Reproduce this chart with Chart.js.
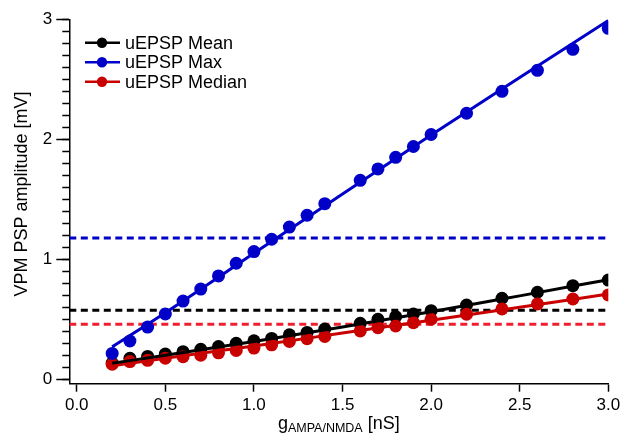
<!DOCTYPE html>
<html><head><meta charset="utf-8">
<script src="https://cdn.jsdelivr.net/npm/chart.js@4"></script>
<style>html,body{margin:0;padding:0;background:#fff}#wrap{width:620px;height:437px}</style>
</head><body><div id="wrap"><canvas id="c" width="620" height="437"></canvas></div>
<script>
// conductance values (nS)
const gValues = [0.2,0.3,0.4,0.5,0.6,0.7,0.8,0.9,1.0,1.1,1.2,1.3,1.4,1.6,1.7,1.8,1.9,2.0,2.2,2.4,2.6,2.8,3.0];
const meanValues = [0.135,0.175,0.19,0.21,0.23,0.25,0.272,0.30,0.32,0.34,0.37,0.39,0.419,0.467,0.50,0.522,0.544,0.572,0.619,0.675,0.725,0.78,0.827];
const maxValues = [0.215,0.319,0.435,0.544,0.652,0.752,0.861,0.967,1.064,1.167,1.268,1.367,1.463,1.658,1.753,1.85,1.94,2.04,2.217,2.40,2.575,2.75,2.925];
const medianValues = [0.125,0.147,0.158,0.175,0.188,0.20,0.22,0.24,0.26,0.287,0.315,0.338,0.357,0.403,0.43,0.444,0.472,0.50,0.542,0.586,0.628,0.669,0.703];
// fitted curves
const fitG = [0.2,0.5,1.0,1.5,2.0,2.5,3.0];
const meanFit = [0.133,0.20,0.315,0.436,0.562,0.695,0.83];
const maxFit = [0.27,0.555,1.05,1.545,2.035,2.515,2.99];
const medianFit = [0.113,0.175,0.278,0.385,0.492,0.60,0.71];
// reference levels (dashed)
const meanLevel = 0.575, maxLevel = 1.178, medianLevel = 0.458;
const seriesLabels = ['uEPSP Mean','uEPSP Max','uEPSP Median'];
const xMin = -0.042, xMax = 3.0, yMin = -0.037, yMax = 3.0;
const xTickStep = 0.5, yTickStep = 1, yMinorStep = 0.1;

const cBlack = '#000000', cBlue = '#0000c8', cRed = '#c80000', cRedDash = '#ee2030';
const pts = (xs, ys) => xs.map((x, i) => ({x, y: ys[i]}));
const hline = v => [{x: xMin, y: v}, {x: xMax, y: v}];

function markers(label, vals, color, order) {
  return {label, data: pts(gValues, vals), showLine: false, pointRadius: 6.5, pointHoverRadius: 6.5,
    pointBackgroundColor: color, pointBorderColor: color, pointBorderWidth: 0, order, legendColor: color};
}
function fitLine(vals, color, order) {
  return {label: '', data: pts(fitG, vals), showLine: true, pointRadius: 0, borderColor: color,
    borderWidth: 3, cubicInterpolationMode: 'monotone', order};
}
function dashLine(v, color, order) {
  return {label: '', data: hline(v), showLine: true, pointRadius: 0, borderColor: color,
    borderWidth: 3, borderDash: [7, 4.5], order};
}

const decor = {
  id: 'decor',
  afterDraw(chart) {
    const ctx = chart.ctx;
    ctx.save();
    ctx.fillStyle = '#000';
    // y title
    ctx.font = '18px "Liberation Sans", Arial, sans-serif';
    ctx.textAlign = 'center'; ctx.textBaseline = 'middle';
    ctx.translate(21.7, 194); ctx.rotate(-Math.PI / 2);
    ctx.fillText('VPM PSP amplitude [mV]', 0, 0);
    ctx.setTransform(1, 0, 0, 1, 0, 0);
    // x title with subscript
    const big = '18px "Liberation Sans", Arial, sans-serif';
    const small = '12.5px "Liberation Sans", Arial, sans-serif';
    ctx.textAlign = 'left'; ctx.textBaseline = 'alphabetic';
    ctx.font = big; const w1 = ctx.measureText('g').width;
    ctx.font = small; const w2 = ctx.measureText('AMPA/NMDA').width;
    ctx.font = big; const w3 = ctx.measureText(' [nS]').width;
    const xs = chart.scales.x;
    const cx = (xs.left + xs.right) / 2;
    let x0 = cx - (w1 + w2 + w3) / 2;
    const base = 429;
    ctx.font = big; ctx.fillText('g', x0, base); x0 += w1;
    ctx.font = small; ctx.fillText('AMPA/NMDA', x0, base + 3); x0 += w2;
    ctx.font = big; ctx.fillText(' [nS]', x0, base);
    // legend
    const rows = [42.7, 62.3, 81.7];
    chart.data.datasets.filter(d => d.legendColor).forEach((d, i) => {
      const y = rows[i];
      ctx.strokeStyle = d.legendColor; ctx.lineWidth = 2.5;
      ctx.beginPath(); ctx.moveTo(85, y); ctx.lineTo(120, y); ctx.stroke();
      ctx.fillStyle = d.legendColor;
      ctx.beginPath(); ctx.arc(102, y, 5.2, 0, Math.PI * 2); ctx.fill();
      ctx.fillStyle = '#000';
      ctx.font = '18px "Liberation Sans", Arial, sans-serif';
      ctx.textBaseline = 'middle';
      ctx.fillText(d.label, 125, y + 1);
    });
    ctx.restore();
  }
};

new Chart(document.getElementById('c'), {
  type: 'scatter',
  data: {
    datasets: [
      markers(seriesLabels[0], meanValues, cBlack, 8),
      markers(seriesLabels[1], maxValues, cBlue, 6),
      markers(seriesLabels[2], medianValues, cRed, 7),
      fitLine(meanFit, cBlack, 3),
      fitLine(maxFit, cBlue, 2),
      fitLine(medianFit, cRed, 4),
      dashLine(meanLevel, cBlack, 10),
      dashLine(maxLevel, cBlue, 10),
      dashLine(medianLevel, cRedDash, 10)
    ]
  },
  options: {
    responsive: false, maintainAspectRatio: false, animation: false, devicePixelRatio: 1,
    layout: {autoPadding: false, padding: {left: 0, top: 19.3, right: 11.7, bottom: 0}},
    plugins: {legend: {display: false}, tooltip: {enabled: false}},
    scales: {
      x: {
        type: 'linear', position: 'bottom', min: xMin, max: xMax,
        ticks: {stepSize: xTickStep, includeBounds: false, autoSkip: false, maxRotation: 0,
          callback: v => Number(v).toFixed(1), color: '#000', padding: 3,
          font: {family: '"Liberation Sans", Arial, sans-serif', size: 17}},
        grid: {drawOnChartArea: false, tickLength: 8, tickWidth: 1.5, tickColor: '#000'},
        border: {color: '#000', width: 1.5},
        afterFit(s) { s.height = 53.3; s.paddingLeft = 0; s.paddingRight = 0; }
      },
      y: {
        type: 'linear', position: 'left', weight: 1, min: yMin, max: yMax,
        ticks: {stepSize: yTickStep, includeBounds: false, autoSkip: false, color: '#000', padding: 4,
          callback: v => String(Math.round(v)),
          font: {family: '"Liberation Sans", Arial, sans-serif', size: 17}},
        grid: {drawOnChartArea: false, tickLength: 13, tickWidth: 1.5, tickColor: '#000'},
        border: {color: '#000', width: 1.5},
        afterFit(s) { s.width = 69.3; s.paddingTop = 0; s.paddingBottom = 0; }
      },
      yMinor: {
        type: 'linear', position: 'left', weight: 0, min: yMin, max: yMax,
        ticks: {stepSize: yMinorStep, includeBounds: false, autoSkip: false, callback: () => '',
          font: {size: 1}},
        grid: {drawOnChartArea: false, tickLength: 7, tickWidth: 1.5, tickColor: '#000'},
        border: {display: false},
        afterFit(s) { s.width = 0; s.paddingTop = 0; s.paddingBottom = 0; }
      }
    }
  },
  plugins: [decor]
});
</script></body></html>
